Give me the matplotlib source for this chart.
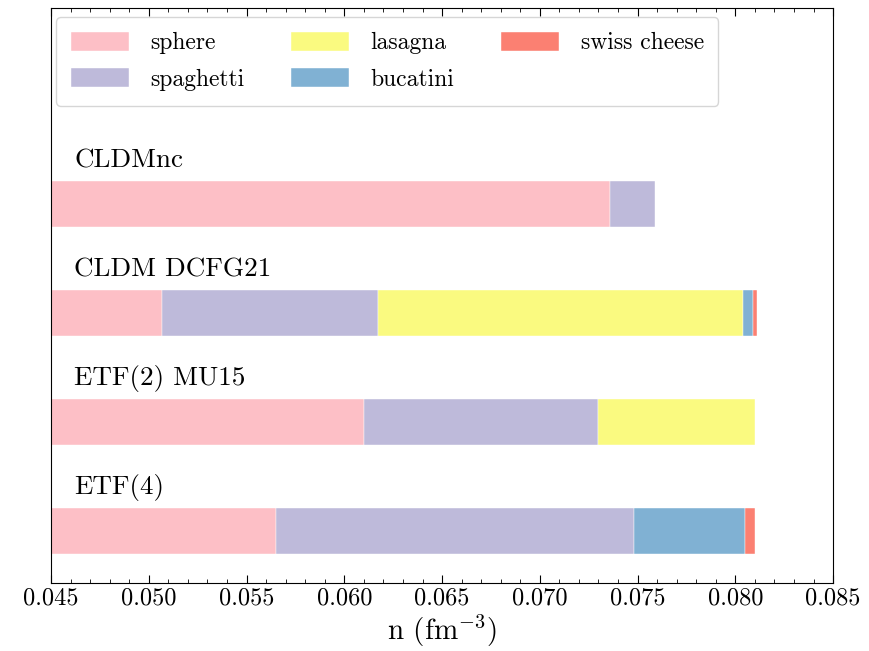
import matplotlib
matplotlib.use("Agg")
import matplotlib.pyplot as plt
import numpy as np

plt.rcParams["font.family"] = "serif"
plt.rcParams["font.serif"] = ["cmr10", "DejaVu Serif"]
plt.rcParams["mathtext.fontset"] = "cm"
plt.rcParams["axes.formatter.use_mathtext"] = True

# Models (top to bottom) and the density at which each phase ends
models = ["CLDMnc", "CLDM DCFG21", "ETF(2) MU15", "ETF(4)"]
phases = ["sphere", "spaghetti", "lasagna", "bucatini", "swiss cheese"]
colors = ["#FDBFC6", "#BEBADA", "#FAFA80", "#80B1D3", "#FB8072"]
n_start = 0.045
# upper density of each phase; None where the phase is absent
phase_end = {
    "CLDMnc":      [0.0736, 0.0759, None,   None,   None],
    "CLDM DCFG21": [0.0507, 0.0617, 0.0804, 0.0809, 0.0811],
    "ETF(2) MU15": [0.0610, 0.0730, 0.0810, None,   None],
    "ETF(4)":      [0.0565, 0.0748, None,   0.0805, 0.0810],
}

fig = plt.figure(figsize=(8.69, 6.51), dpi=100)
ax = fig.add_axes([0.0587, 0.1045, 0.9, 0.8825])

bar_h = 0.42
ypos = {m: len(models) - 1 - i for i, m in enumerate(models)}
drawn = set()
for m in models:
    y = ypos[m]
    left = n_start
    for ph, col, end in zip(phases, colors, phase_end[m]):
        if end is None:
            continue
        lab = ph if ph not in drawn else None
        drawn.add(ph)
        ax.barh(y, end - left, left=left, height=bar_h, color=col,
                edgecolor="white", linewidth=0.3, label=lab)
        left = end
    ax.text(0.0462, y + 0.40, m, fontsize=19.5, ha="left", va="center")

ax.set_xlim(0.045, 0.085)
ax.set_ylim(-0.48, 4.8)
ax.set_yticks([])
ticks = np.arange(0.045, 0.0851, 0.005)
ax.set_xticks(ticks)
ax.set_xticklabels([f"{v:.3f}" for v in ticks])
ax.xaxis.set_minor_locator(matplotlib.ticker.MultipleLocator(0.001))
ax.tick_params(axis="x", which="both", direction="in", top=True, labelsize=17.5)
ax.tick_params(axis="x", which="major", length=6)
ax.tick_params(axis="x", which="minor", length=3)
ax.set_xlabel(r"n (fm$^{-3}$)", fontsize=21, labelpad=2)

handles, labels = ax.get_legend_handles_labels()
order = [labels.index(p) for p in phases]
ax.legend([handles[i] for i in order], [labels[i] for i in order],
          loc="upper left", ncol=3, fontsize=17, frameon=True,
          bbox_to_anchor=(0.0065, 0.985), borderaxespad=0,
          handlelength=2.45, handleheight=0.85,
          handletextpad=0.9, columnspacing=2.0, borderpad=0.62,
          labelspacing=0.6)

fig.savefig("out.png", dpi=100)
